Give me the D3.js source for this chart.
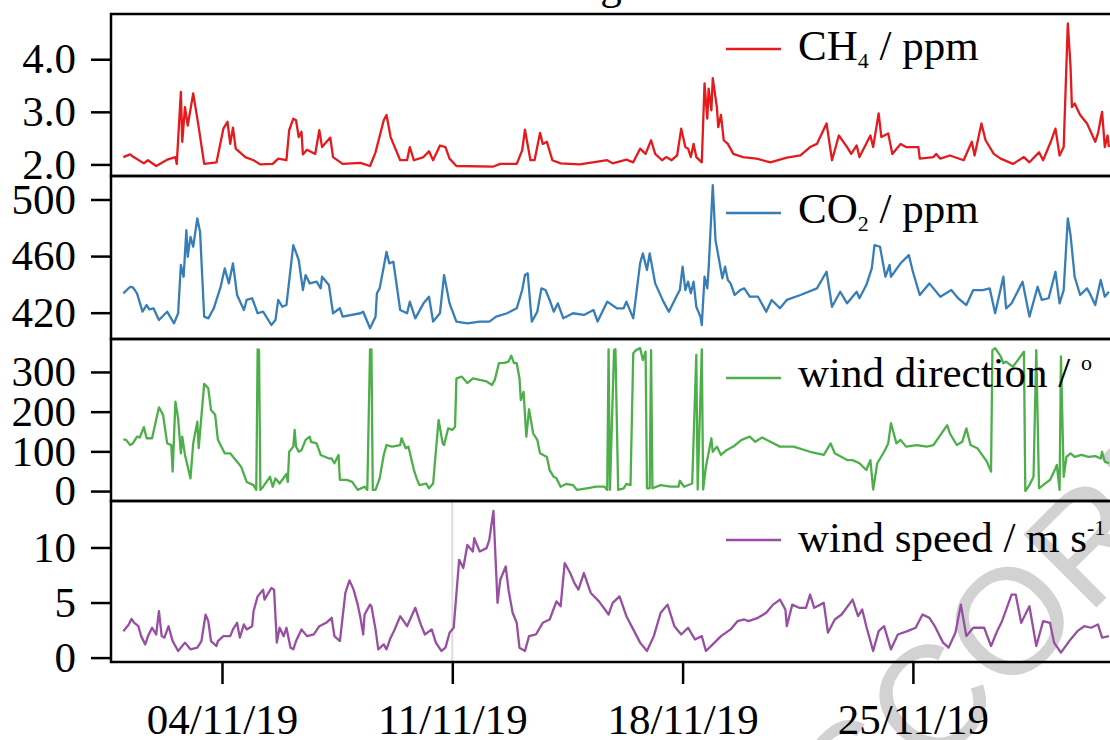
<!DOCTYPE html>
<html>
<head>
<meta charset="utf-8">
<script src="https://cdn.jsdelivr.net/npm/d3@7"></script>
<style>
  body { margin: 0; background: #fff; overflow: hidden; }
  svg { display: block; font-family: "Liberation Serif", "Times New Roman", serif; }
</style>
</head>
<body>
<svg id="chart" width="1110" height="740"></svg>
<script>
// [hours since 01/11/19 00:00, value]
const ch4 = [[0,2.14],[5,2.19],[7,2.15],[15,2.02],[18,2.08],[24,1.97],[32,2.09],[38,2.14],[39,2.01],[42,3.38],[43,2.43],[45,3.09],[47,2.74],[51,3.35],[55,2.71],[59,2.01],[68,2.04],[73,2.68],[76,2.81],[78,2.39],[80,2.70],[82,2.30],[89,2.14],[95,2.08],[100,2.0],[109,2.01],[113,2.11],[119,2.08],[121,2.65],[124,2.87],[126,2.84],[128,2.52],[130,2.62],[131,2.19],[134,2.28],[140,2.20],[143,2.65],[145,2.33],[151,2.51],[153,2.14],[160,2.01],[173,2.03],[180,1.97],[184,2.23],[190,2.84],[192,2.94],[195,2.52],[198,2.33],[202,2.08],[207,2.08],[209,2.33],[212,2.08],[219,2.14],[223,2.25],[226,2.08],[231,2.36],[235,2.33],[238,2.11],[243,1.97],[270,1.96],[275,2.01],[287,2.01],[291,2.27],[293,2.66],[297,2.08],[300,2.08],[304,2.60],[306,2.39],[309,2.43],[313,2.08],[319,2.02],[333,2.0],[353,2.08],[357,2.02],[367,2.09],[372,2.04],[377,2.30],[381,2.20],[385,2.46],[388,2.20],[393,2.08],[396,2.14],[400,2.08],[404,2.17],[407,2.68],[410,2.33],[412,2.30],[414,2.14],[416,2.39],[418,2.14],[422,2.04],[424,3.54],[426,2.87],[427,3.44],[429,3.03],[430,3.64],[433,3.09],[434,2.71],[436,2.94],[438,2.46],[441,2.39],[445,2.20],[452,2.14],[462,2.11],[472,2.04],[484,2.13],[494,2.17],[501,2.33],[506,2.39],[513,2.78],[517,2.08],[522,2.55],[528,2.33],[531,2.20],[535,2.36],[537,2.14],[545,2.55],[547,2.33],[551,2.97],[553,2.52],[558,2.59],[561,2.20],[567,2.39],[571,2.33],[580,2.33],[581,2.11],[591,2.14],[593,2.20],[596,2.11],[603,2.17],[613,2.08],[619,2.43],[621,2.17],[626,2.78],[629,2.46],[635,2.20],[640,2.11],[649,2.01],[657,2.14],[661,2.04],[668,2.23],[671,2.08],[677,2.46],[680,2.68],[683,2.17],[686,2.33],[689,4.68],[691,3.86],[692,3.09],[694,3.16],[698,2.94],[703,2.78],[709,2.43],[711,2.59],[714,3.0],[716,2.33],[718,2.55],[719,2.33]];

const co2 = [[0,433.7],[5,438.3],[7,437.9],[10,433.7],[14,420.7],[17,425.4],[19,422.4],[22,423.1],[26,414.8],[32,420.7],[37,412.5],[40,419.6],[42,453.7],[44,445.4],[46,478.3],[47,459.5],[49,473.6],[51,466.6],[54,486.6],[56,477.1],[59,417.2],[62,416.0],[66,423.1],[71,438.3],[74,451.3],[77,440.7],[80,454.9],[83,432.5],[88,421.9],[90,429.0],[94,430.2],[98,419.6],[102,420.7],[108,411.3],[111,414.8],[113,429.0],[116,424.2],[119,425.4],[124,467.8],[128,457.2],[131,436.0],[133,446.6],[136,440.7],[141,441.9],[144,437.2],[145,445.4],[150,439.5],[153,419.6],[158,423.1],[160,417.2],[173,419.6],[175,420.7],[180,409.0],[184,417.2],[185,433.7],[187,437.2],[190,452.5],[192,463.0],[194,454.9],[197,456.0],[202,421.9],[207,419.6],[209,427.8],[213,416.0],[219,426.6],[223,431.3],[226,413.7],[231,419.6],[234,446.6],[238,426.6],[243,413.7],[251,412.5],[260,413.7],[267,413.7],[272,417.2],[280,419.6],[287,423.1],[291,436.0],[293,446.6],[295,447.8],[298,413.7],[302,420.7],[305,437.2],[308,436.0],[311,429.0],[314,420.7],[317,426.6],[321,416.0],[328,419.6],[336,418.4],[343,421.9],[346,413.7],[353,427.8],[360,423.1],[365,423.1],[367,427.8],[372,416.0],[377,454.9],[379,461.9],[382,450.1],[384,461.9],[388,440.7],[394,427.8],[398,420.7],[404,432.5],[406,436.0],[408,452.5],[410,436.0],[412,441.9],[414,433.7],[416,441.9],[418,424.2],[421,417.2],[422,411.3],[424,445.4],[426,437.2],[427,451.3],[430,510.1],[432,471.3],[437,444.3],[439,452.5],[441,443.1],[443,440.7],[446,432.5],[450,436.0],[453,437.2],[457,431.3],[463,431.3],[469,420.7],[473,429.0],[479,423.1],[484,429.0],[494,432.5],[506,437.2],[513,448.9],[517,424.2],[523,434.8],[528,426.6],[535,434.8],[537,430.2],[542,439.5],[546,451.3],[548,467.8],[552,466.6],[556,445.4],[559,453.7],[560,445.4],[567,454.9],[573,460.7],[576,448.9],[581,432.5],[588,440.7],[596,431.3],[604,436.0],[609,430.2],[615,425.4],[620,436.0],[627,436.0],[632,437.2],[636,419.6],[642,445.4],[644,423.1],[648,426.6],[656,441.9],[661,417.2],[667,438.3],[670,429.0],[675,430.2],[680,448.9],[683,426.6],[686,436.0],[689,486.6],[691,474.8],[694,445.4],[698,432.5],[703,437.2],[705,433.7],[709,425.4],[713,443.1],[716,431.3],[719,434.8]];

const windDir = [[0,130],[2,129],[5,116],[7,120],[10,137],[12,135],[15,161],[17,133],[21,133],[26,211],[29,192],[32,120],[35,116],[36,49],[38,225],[40,183],[42,95],[43,137],[45,91],[49,32],[51,120],[54,175],[55,108],[59,270],[62,259],[64,204],[67,192],[69,129],[74,95],[78,95],[83,74],[86,61],[90,23],[95,15],[97,3],[98,357],[99,355],[100,3],[102,11],[107,36],[109,11],[111,32],[114,19],[119,43],[120,23],[121,99],[124,112],[125,154],[126,112],[128,99],[130,103],[133,129],[136,137],[137,124],[141,120],[144,91],[150,82],[152,82],[154,70],[157,91],[158,28],[163,28],[167,23],[171,3],[176,11],[178,3],[180,357],[181,357],[182,3],[184,3],[187,32],[190,91],[192,116],[196,112],[202,116],[203,133],[206,108],[208,112],[212,53],[214,32],[216,15],[221,19],[223,7],[226,19],[230,179],[233,120],[234,116],[237,158],[240,154],[242,162],[243,284],[247,288],[251,272],[255,284],[260,280],[265,276],[269,267],[271,280],[274,322],[278,323],[281,326],[283,341],[285,322],[287,322],[289,284],[290,229],[292,250],[294,137],[296,206],[299,145],[302,129],[304,95],[309,86],[311,53],[314,36],[316,32],[319,11],[323,18],[328,15],[331,3],[338,7],[345,11],[351,11],[353,3],[354,357],[355,3],[358,355],[359,357],[361,3],[365,7],[367,18],[370,15],[372,347],[374,355],[377,360],[379,330],[381,351],[382,7],[384,7],[385,355],[386,7],[392,15],[399,11],[405,11],[406,26],[409,11],[415,19],[418,343],[419,4],[422,357],[423,4],[425,61],[429,133],[430,99],[433,112],[436,91],[440,103],[445,112],[451,129],[457,137],[461,124],[466,135],[472,124],[479,112],[489,112],[501,99],[511,91],[516,120],[519,95],[528,78],[532,78],[537,70],[542,53],[545,78],[547,4],[550,70],[555,99],[558,120],[560,171],[564,120],[567,129],[571,112],[579,116],[586,112],[591,116],[596,141],[601,166],[603,145],[608,116],[612,124],[615,158],[618,116],[623,108],[630,74],[633,49],[634,355],[636,360],[640,339],[642,322],[644,326],[649,313],[657,351],[658,0],[661,15],[664,36],[666,355],[668,7],[671,15],[676,28],[680,57],[681,66],[683,3],[684,339],[686,36],[688,86],[691,95],[694,86],[699,91],[704,86],[709,88],[713,82],[714,99],[716,74],[719,70]];

const windSpeed = [[0,2.40],[4,3.01],[6,3.52],[8,3.16],[11,2.85],[13,1.95],[16,1.20],[18,1.95],[21,2.71],[24,2.10],[26,4.21],[28,1.95],[30,1.81],[33,2.85],[36,1.50],[40,0.60],[45,1.36],[49,0.75],[54,0.90],[57,1.50],[60,3.91],[62,3.31],[64,1.50],[68,1.05],[69,1.50],[73,1.95],[78,1.95],[80,2.56],[83,3.16],[85,1.81],[88,3.01],[90,2.56],[94,2.85],[95,4.21],[98,5.56],[102,6.17],[103,5.27],[108,6.32],[110,6.17],[112,1.36],[114,2.71],[117,1.95],[119,2.71],[122,0.90],[124,0.75],[126,1.50],[130,2.56],[134,1.95],[139,2.10],[143,2.85],[148,3.16],[152,3.61],[154,1.95],[158,1.50],[162,5.87],[165,7.01],[168,6.17],[171,4.81],[173,3.61],[175,2.10],[176,3.91],[180,4.81],[181,4.66],[184,2.56],[186,0.75],[190,1.20],[192,0.75],[195,1.81],[198,2.56],[201,3.46],[202,3.76],[207,2.85],[213,4.52],[217,3.01],[220,2.10],[225,2.56],[228,1.36],[232,0.60],[235,0.90],[238,2.26],[241,2.71],[245,8.88],[248,8.13],[251,10.23],[255,9.63],[256,10.84],[260,9.63],[265,9.94],[267,10.69],[270,13.33],[273,4.97],[275,7.07],[279,8.27],[281,6.17],[284,4.07],[287,3.16],[289,0.90],[293,0.60],[296,1.95],[301,2.10],[306,3.16],[311,3.46],[316,5.11],[319,4.66],[322,8.58],[326,7.68],[329,6.78],[332,6.17],[336,7.68],[341,5.87],[347,5.11],[354,3.91],[357,4.97],[362,5.56],[367,3.76],[372,2.56],[377,1.36],[382,0.60],[387,1.95],[392,4.07],[397,4.81],[402,2.85],[407,2.10],[412,2.71],[417,1.65],[422,1.95],[425,0.60],[430,1.20],[436,1.95],[443,2.56],[448,3.31],[453,3.46],[456,3.31],[463,3.61],[469,4.07],[474,4.81],[479,5.27],[483,4.36],[484,2.85],[488,4.81],[493,4.52],[498,4.52],[501,5.72],[504,4.52],[511,4.97],[514,2.26],[519,3.46],[524,3.91],[532,5.27],[536,3.76],[539,4.36],[542,2.85],[547,0.60],[551,2.40],[555,2.85],[560,0.75],[565,2.10],[572,2.40],[578,2.71],[583,3.91],[588,3.61],[592,2.85],[598,1.36],[602,0.90],[607,2.26],[611,4.81],[615,1.95],[620,2.71],[628,2.71],[633,1.05],[638,2.56],[641,3.31],[648,5.72],[651,5.72],[655,3.16],[661,4.66],[666,1.05],[671,3.31],[676,3.16],[679,1.36],[684,0.45],[691,1.65],[696,2.40],[701,2.85],[706,2.71],[711,3.01],[714,1.81],[719,1.95]];

const dateTicks = [3, 10, 17, 24]; // days after 01/11/19
const start = Date.UTC(2019, 10, 1);
const toDate = h => new Date(start + h * 3600e3);

const svg = d3.select("#chart");
const fontSize = 43;

// faint watermark behind everything
svg.append("text")
  .attr("transform", "translate(858,846) rotate(-45)")
  .attr("font-family", "Liberation Sans, Arial, sans-serif")
  .attr("font-size", 150)
  .attr("fill", "#d2d2d2")
  .text("SCORE");

// title cut off at the top edge
svg.append("text")
  .attr("x", 611).attr("y", -1)
  .attr("text-anchor", "middle")
  .attr("font-size", fontSize)
  .text("g");

const x = d3.scaleUtc().domain([toDate(0), toDate(720)]).range([123.3, 1110.3]);
const frameLeft = 111, frameRight = 1132;

const sub = (t, main, s, rest) => {
  t.append("tspan").text(main);
  t.append("tspan").attr("font-size", 22).attr("dy", 8).text(s);
  t.append("tspan").attr("dy", -8).text(rest);
};
const sup = (t, main, s) => {
  t.append("tspan").text(main);
  t.append("tspan").attr("font-size", 22).attr("dy", -17).text(s);
};

const panels = [
  { data: ch4, color: "#e41a1c", top: 14, bottom: 176, domain: [1.78, 4.86], ticks: [2, 3, 4], fmt: d3.format(".1f"),
    legendY: 49, textDy: 11, label: t => sub(t, "CH", "4", " / ppm") },
  { data: co2, color: "#377eb8", top: 176, bottom: 339, domain: [401.4, 516.6], ticks: [420, 460, 500], fmt: d3.format("d"),
    legendY: 213, textDy: 10, label: t => sub(t, "CO", "2", " / ppm") },
  { data: windDir, color: "#4daf4a", top: 339, bottom: 501, domain: [-25, 383], ticks: [0, 100, 200, 300], fmt: d3.format("d"),
    legendY: 378, textDy: 9, label: t => sup(t, "wind direction / ", "o") },
  { data: windSpeed, color: "#984ea3", top: 501, bottom: 662, domain: [-0.4, 14.22], ticks: [0, 5, 10], fmt: d3.format("d"),
    legendY: 540, textDy: 12, label: t => sup(t, "wind speed / m s", "-1") }
];

// light grey marker at 11/11/19 in the wind speed panel
svg.append("line")
  .attr("x1", x(toDate(240))).attr("x2", x(toDate(240)))
  .attr("y1", 502).attr("y2", 661)
  .attr("stroke", "#dcdcdc").attr("stroke-width", 2);

panels.forEach((p, i) => {
  const y = d3.scaleLinear().domain(p.domain).range([p.bottom, p.top]);

  svg.append("clipPath").attr("id", "clip" + i)
    .append("rect")
    .attr("x", frameLeft).attr("y", p.top)
    .attr("width", frameRight - frameLeft).attr("height", p.bottom - p.top);

  const line = d3.line().x(d => x(toDate(d[0]))).y(d => y(d[1]));
  svg.append("path")
    .datum(p.data)
    .attr("clip-path", `url(#clip${i})`)
    .attr("fill", "none")
    .attr("stroke", p.color)
    .attr("stroke-width", 2.3)
    .attr("stroke-linejoin", "round")
    .attr("d", line);

  // legend
  svg.append("line")
    .attr("x1", 726).attr("x2", 781)
    .attr("y1", p.legendY).attr("y2", p.legendY)
    .attr("stroke", p.color).attr("stroke-width", 2.3);
  const t = svg.append("text")
    .attr("x", 798).attr("y", p.legendY + p.textDy)
    .attr("font-size", fontSize);
  p.label(t);

  // y axis
  const ax = svg.append("g")
    .attr("transform", `translate(${frameLeft},0)`)
    .call(d3.axisLeft(y).tickValues(p.ticks).tickFormat(p.fmt).tickSize(20).tickPadding(15));
  ax.select(".domain").remove();
  ax.selectAll(".tick line").attr("stroke-width", 2.5);
  ax.selectAll("text")
    .attr("font-family", "Liberation Serif, Times New Roman, serif")
    .attr("font-size", fontSize)
    .attr("fill", "#000");

  // frame
  svg.append("rect")
    .attr("x", frameLeft).attr("y", p.top)
    .attr("width", frameRight - frameLeft).attr("height", p.bottom - p.top)
    .attr("fill", "none").attr("stroke", "#000").attr("stroke-width", 2.5);
});

// x axis under the last panel
const xa = svg.append("g")
  .attr("transform", "translate(0,662)")
  .call(d3.axisBottom(x)
    .tickValues(dateTicks.map(d => toDate(d * 24)))
    .tickFormat(d3.utcFormat("%d/%m/%y"))
    .tickSize(22).tickPadding(19));
xa.select(".domain").remove();
xa.selectAll(".tick line").attr("stroke-width", 2.5);
xa.selectAll("text")
  .attr("font-family", "Liberation Serif, Times New Roman, serif")
  .attr("font-size", fontSize)
  .attr("fill", "#000");
</script>
</body>
</html>
